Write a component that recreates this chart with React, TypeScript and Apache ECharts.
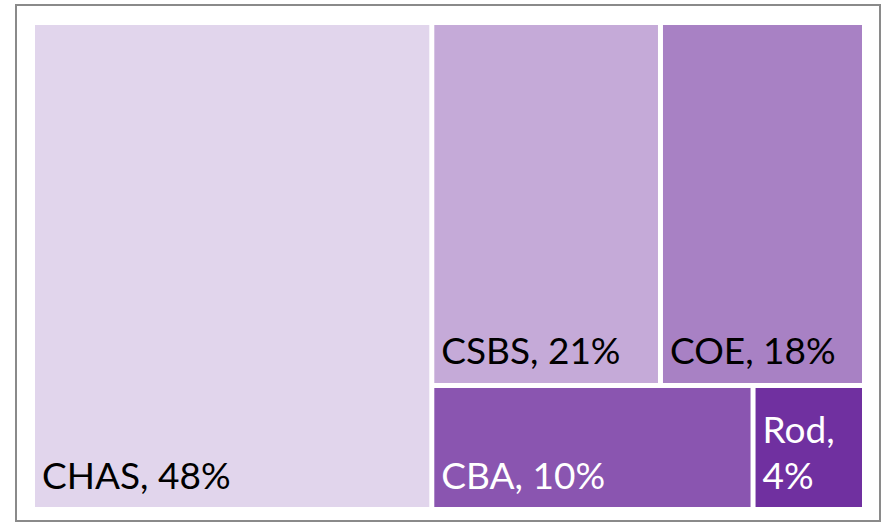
import React, { useEffect, useRef } from "react";
import * as echarts from "echarts";

const categories = ["CHAS", "CSBS", "COE", "CBA", "Rod"];
// percentages shown in the labels
const percentLabels = [48, 21, 18, 10, 4];
const areas = [47.8, 20.4, 18.2, 9.8, 3.4];
const colors = ["#E1D5EC", "#C5AAD8", "#A881C4", "#8A55B0", "#7030A0"];
const labelColors = ["#000000", "#000000", "#000000", "#FFFFFF", "#FFFFFF"];

export default function App() {
  const ref = useRef<HTMLDivElement>(null);
  useEffect(() => {
    if (!ref.current) return;
    const chart = echarts.init(ref.current, undefined, { renderer: "svg" });
    const data = categories.map((name, i) => ({
      name,
      value: areas[i],
      itemStyle: { color: colors[i], borderWidth: 0 },
      label: {
        color: labelColors[i],
        formatter:
          name === "Rod" ? `${name},\n${percentLabels[i]}%` : `${name}, ${percentLabels[i]}%`,
      },
    }));
    chart.setOption({
      animation: false,
      graphic: [
        {
          type: "rect",
          shape: { x: 16, y: 5, width: 864, height: 516 },
          style: { fill: "none", stroke: "#8a8a8a", lineWidth: 2 },
          z: 10,
        },
      ],
      series: [
        {
          type: "treemap",
          left: 35,
          top: 25,
          width: 827,
          height: 482,
          roam: false,
          nodeClick: false,
          breadcrumb: { show: false },
          label: {
            show: true,
            position: "insideBottomLeft",
            distance: 0,
            padding: [0, 0, 10, 7],
            fontFamily: "Lato",
            fontSize: 37,
            lineHeight: 46,
            overflow: "none",
          },
          itemStyle: { borderWidth: 0, gapWidth: 5 },
          levels: [{ itemStyle: { borderWidth: 0, gapWidth: 5, borderColor: "#fff" } }],
          emphasis: { disabled: true },
          data,
        },
      ],
    });
    return () => chart.dispose();
  }, []);
  return <div ref={ref} style={{ width: 884, height: 524, position: "absolute", left: 0, top: 0 }} />;
}
